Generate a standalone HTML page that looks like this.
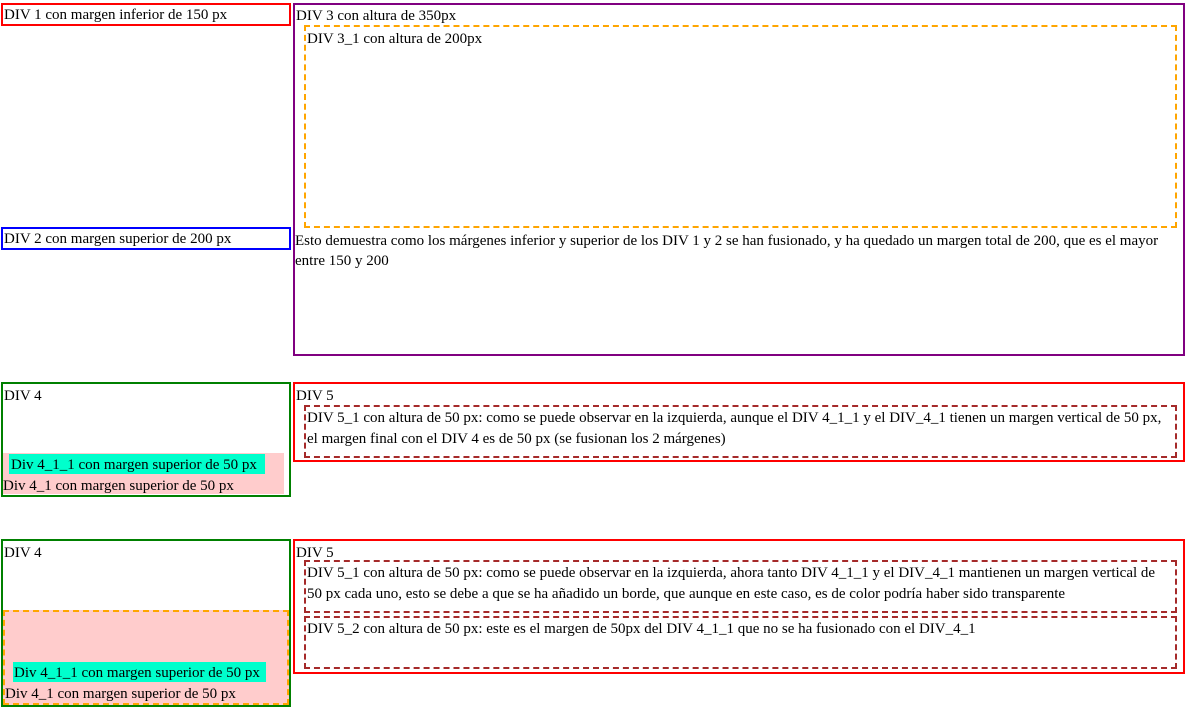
<!DOCTYPE html>
<html><head><style>
body{margin:0;width:1187px;height:711px;background:#fff;font-family:"Liberation Serif",serif;font-size:15px;line-height:20px;color:#000;position:relative;overflow:hidden}
div{position:absolute;box-sizing:border-box}
.t{white-space:nowrap}
</style></head><body>
<div style="left:1px;top:3px;width:290px;height:23px;border:2px solid #f00;line-height:18px;padding:1px 0 0 1px">DIV 1 con margen inferior de 150 px</div>
<div style="left:1px;top:227px;width:290px;height:23px;border:2px solid #00f;line-height:18px;padding:1px 0 0 1px">DIV 2 con margen superior de 200 px</div>
<div style="left:293px;top:3px;width:892px;height:353px;border:2px solid #800080;line-height:18px;padding:2px 0 0 1px">DIV 3 con altura de 350px</div>
<div style="left:304px;top:25px;width:873px;height:203px;border:2px dashed orange;line-height:22px;padding:1px 0 0 1px">DIV 3_1 con altura de 200px</div>
<div style="left:295px;top:231px;width:885px;line-height:20px">Esto demuestra como los márgenes inferior y superior de los DIV 1 y 2 se han fusionado, y ha quedado un margen total de 200, que es el mayor entre 150 y 200</div>

<div style="left:1px;top:382px;width:290px;height:115px;border:2px solid green;line-height:22px;padding:1px 0 0 1px">DIV 4</div>
<div style="left:3px;top:453px;width:281px;height:41px;background:#fcc"></div>
<div class="t" style="left:9px;top:454px;width:256px;height:20px;background:#00ffcc;padding:2px 0 0 2px;line-height:18px">Div 4_1_1 con margen superior de 50 px</div>
<div class="t" style="left:3px;top:476px">Div 4_1 con margen superior de 50 px</div>

<div style="left:293px;top:382px;width:892px;height:80px;border:2px solid #f00;line-height:22px;padding:1px 0 0 1px">DIV 5</div>
<div style="left:304px;top:405px;width:873px;height:53px;border:2px dashed #a52a2a;padding:1px 10px 0 1px;line-height:21px">DIV 5_1 con altura de 50 px: como se puede observar en la izquierda, aunque el DIV 4_1_1 y el DIV_4_1 tienen un margen vertical de 50 px, el margen final con el DIV 4 es de 50 px (se fusionan los 2 márgenes)</div>

<div style="left:1px;top:539px;width:290px;height:168px;border:2px solid green;line-height:22px;padding:1px 0 0 1px">DIV 4</div>
<div style="left:3px;top:610px;width:286px;height:95px;background:#fcc;border:2px dashed orange"></div>
<div class="t" style="left:13px;top:662px;width:253px;height:20px;background:#00ffcc;padding:2px 0 0 1px;line-height:18px">Div 4_1_1 con margen superior de 50 px</div>
<div class="t" style="left:5px;top:684px">Div 4_1 con margen superior de 50 px</div>

<div style="left:293px;top:539px;width:892px;height:135px;border:2px solid #f00;line-height:20px;padding:2px 0 0 1px">DIV 5</div>
<div style="left:304px;top:560px;width:873px;height:53px;border:2px dashed #a52a2a;padding:1px 10px 0 1px;line-height:21px">DIV 5_1 con altura de 50 px: como se puede observar en la izquierda, ahora tanto DIV 4_1_1 y el DIV_4_1 mantienen un margen vertical de 50 px cada uno, esto se debe a que se ha añadido un borde, que aunque en este caso, es de color podría haber sido transparente</div>
<div style="left:304px;top:616px;width:873px;height:53px;border:2px dashed #a52a2a;padding:1px 10px 0 1px;line-height:21px">DIV 5_2 con altura de 50 px: este es el margen de 50px del DIV 4_1_1 que no se ha fusionado con el DIV_4_1</div>
</body></html>
